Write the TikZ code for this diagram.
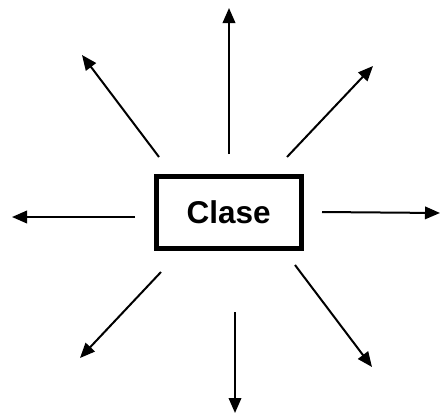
\documentclass[tikz,border=0pt]{standalone}
\usepackage{fontspec}
\setmainfont{Liberation Sans}
\usetikzlibrary{arrows.meta}
\begin{document}
\begin{tikzpicture}[x=1pt,y=-1pt,
    clase/.style={draw,line width=5pt,minimum width=145pt,minimum height=72pt,
      inner sep=0pt,font=\bfseries\fontsize{31.5}{31.5}\selectfont},
    rayo/.style={line width=2pt,-{Triangle[length=15pt,width=12.5pt]}}]
      \useasboundingbox (0,0) rectangle (441,418);
      \node[clase] (c) at (228.7,212.7) {Clase};
      \draw
        (229,154) coordinate (n0) (229,8) coordinate (n1)
        (159,157) coordinate (nw0) (82,55) coordinate (nw1)
        (287,157) coordinate (ne0) (373,66) coordinate (ne1)
        (135,217) coordinate (w0) (12,217) coordinate (w1)
        (322,212) coordinate (e0) (440,213) coordinate (e1)
        (161,272) coordinate (sw0) (80,358) coordinate (sw1)
        (235,312) coordinate (s0) (235,413) coordinate (s1)
        (295,265) coordinate (se0) (372,367) coordinate (se1);
      \begin{scope}[rayo]
        \draw (n0) to (n1);
        \draw (nw0) to (nw1);
        \draw (ne0) to (ne1);
        \draw (w0) to (w1);
        \draw (e0) to (e1);
        \draw (sw0) to (sw1);
        \draw (s0) to (s1);
        \draw (se0) to (se1);
      \end{scope}
    \end{tikzpicture}
\end{document}
